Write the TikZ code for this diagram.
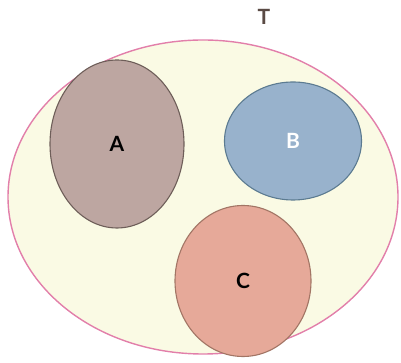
\documentclass[tikz,border=0pt]{standalone}
\usepackage{fontspec}
\setmainfont{Lato}
\usepackage{tikz}
\usetikzlibrary{shapes.geometric,positioning}

\definecolor{universefill}{HTML}{FAFAE4}
\definecolor{universeline}{HTML}{E27FAA}
\definecolor{setAfill}{HTML}{BDA6A1}
\definecolor{setAline}{HTML}{6E5E59}
\definecolor{setBfill}{HTML}{98B2CC}
\definecolor{setBline}{HTML}{5C7B91}
\definecolor{setCfill}{HTML}{E6A999}
\definecolor{setCline}{HTML}{A27565}
\definecolor{labelbrown}{HTML}{5A4A44}

\begin{document}
\begin{tikzpicture}[x=1pt,y=1pt]
    % --- Styles ---
    \tikzstyle{universe}=[ellipse, draw=universeline, fill=universefill, line width=1.4pt]
    \tikzstyle{subset}=[ellipse, line width=1.1pt, font=\fontsize{21}{25}\selectfont\bfseries]
    \tikzstyle{set_label}=[font=\fontsize{21}{25}\selectfont\bfseries, color=labelbrown]

    \useasboundingbox (0,0) rectangle (401,363);

    % --- 1. Universe ---
    \node[universe, minimum width=390pt, minimum height=314pt] (universe) at (203,166) {};
    \node[set_label] (labelT) at (264,346) {T};

    % --- 2. Subsets ---
    \node[subset, draw=setAline, fill=setAfill, minimum width=134pt, minimum height=168pt] (setA) at (117,219) {A};
    \node[subset, draw=setBline, fill=setBfill, text=white, minimum width=137pt, minimum height=118pt] (setB) at (293,222) {B};
    \node[subset, draw=setCline, fill=setCfill, minimum width=136pt, minimum height=151pt] (setC) at (243,82) {C};
\end{tikzpicture}
\end{document}
